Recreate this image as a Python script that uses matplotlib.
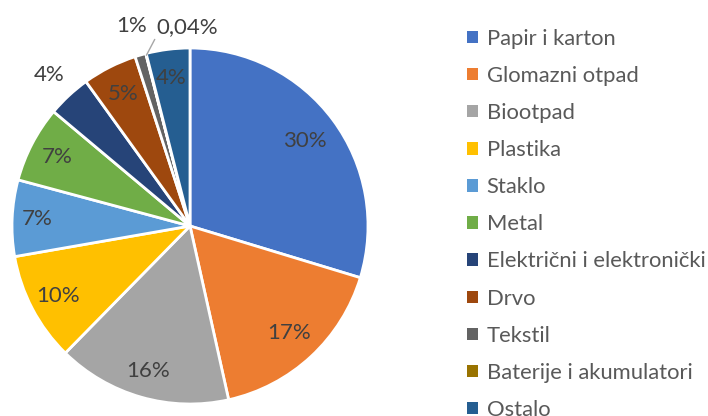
import numpy as np
import matplotlib.pyplot as plt
from matplotlib.patches import Patch

categories = ["Papir i karton", "Glomazni otpad", "Biootpad", "Plastika", "Staklo",
              "Metal", "Električni i elektronički", "Drvo", "Tekstil",
              "Baterije i akumulatori", "Ostalo"]
shares = [30, 17, 16, 10, 7, 7, 4, 5, 1, 0.04, 4]
pct_labels = ["30%", "17%", "16%", "10%", "7%", "7%", "4%", "5%", "1%", "0,04%", "4%"]
colors = ["#4472C4", "#ED7D31", "#A5A5A5", "#FFC000", "#5B9BD5", "#70AD47",
          "#264478", "#9E480E", "#636363", "#997300", "#255E91"]
label_dist = [0.8, 0.82, 0.85, 0.84, 0.86, 0.84, 1.16, 0.83, 1.17, None, 0.84]

plt.rcParams['font.family'] = ['Lato', 'DejaVu Sans']

fig = plt.figure(figsize=(7.08, 4.16), dpi=100)
cx, cy, r = 190, 226, 178
ax = fig.add_axes([(cx - r) / 708, (416 - cy - r) / 416, 2 * r / 708, 2 * r / 416])

wedges, _ = ax.pie(shares, colors=colors, startangle=90, counterclock=False,
                   radius=1, wedgeprops=dict(edgecolor='white', linewidth=2))
ax.set_xlim(-1, 1)
ax.set_ylim(-1, 1)
ax.set_aspect('equal')
ax.axis('off')

for w, lab, d in zip(wedges, pct_labels, label_dist):
    mid = np.deg2rad((w.theta1 + w.theta2) / 2)
    if d is None:
        # leader line for the tiny slice
        ax.annotate(lab, xy=(0.99 * np.cos(mid), 0.99 * np.sin(mid)),
                    xytext=(-0.19, 1.12), ha='left', va='center',
                    fontsize=16, color='#404040', annotation_clip=False,
                    arrowprops=dict(arrowstyle='-', color='#A6A6A6', lw=1,
                                    relpos=(0, 0), shrinkA=0, shrinkB=0))
        continue
    ax.text(d * np.cos(mid), d * np.sin(mid), lab, ha='center', va='center',
            fontsize=16, color='#404040')

handles = [Patch(facecolor=c, edgecolor='none') for c in colors]
fig.legend(handles, categories, loc='upper left', bbox_to_anchor=(458 / 708, 1 - 20 / 416),
           frameon=False, fontsize=15.8, labelcolor='#595959', handlelength=0.5,
           handleheight=0.5, handletextpad=0.4, labelspacing=0.78, borderaxespad=0)

fig.savefig('out.png', dpi=100)
